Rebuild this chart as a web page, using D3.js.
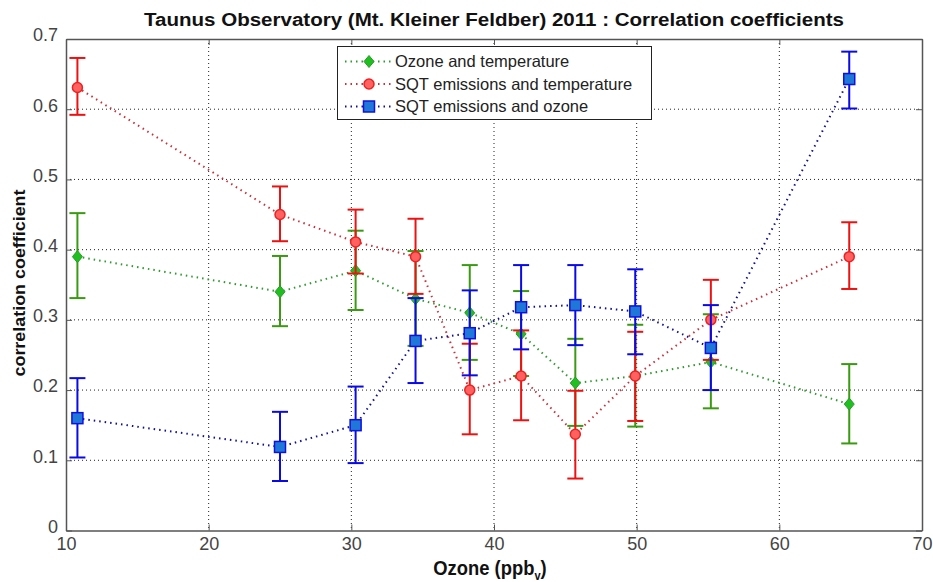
<!DOCTYPE html>
<html>
<head>
<meta charset="utf-8">
<style>
body { margin: 0; background: #fff; }
svg { display: block; font-family: "Liberation Sans", Arial, sans-serif; }
</style>
</head>
<body>
<svg id="chart" width="933" height="582"></svg>
<script src="https://d3js.org/d3.v7.min.js"></script>
<script>
// ozone bins (ppbv)
var ozone = [10.8, 25.0, 30.3, 34.5, 38.3, 41.9, 45.7, 49.9, 55.2, 64.9];

var o3Temp    = [0.39, 0.34, 0.37, 0.33, 0.31, 0.28, 0.21, 0.22, 0.24, 0.18];
var o3TempLo  = [0.331, 0.291, 0.314, 0.263, 0.243, 0.22, 0.149, 0.148, 0.174, 0.124];
var o3TempHi  = [0.452, 0.391, 0.427, 0.398, 0.378, 0.341, 0.273, 0.293, 0.308, 0.237];

var sqtTemp   = [0.631, 0.45, 0.411, 0.39, 0.20, 0.22, 0.137, 0.22, 0.30, 0.39];
var sqtTempLo = [0.592, 0.412, 0.366, 0.337, 0.137, 0.157, 0.074, 0.156, 0.243, 0.344];
var sqtTempHi = [0.673, 0.49, 0.457, 0.444, 0.266, 0.285, 0.199, 0.283, 0.357, 0.439];

var sqtO3     = [0.16, 0.119, 0.15, 0.27, 0.281, 0.318, 0.321, 0.312, 0.26, 0.643];
var sqtO3Lo   = [0.104, 0.0705, 0.096, 0.21, 0.221, 0.258, 0.264, 0.251, 0.20, 0.601];
var sqtO3Hi   = [0.217, 0.169, 0.205, 0.331, 0.342, 0.378, 0.378, 0.372, 0.321, 0.682];

var xTicks = [10, 20, 30, 40, 50, 60, 70];
var yTicks = [0, 0.1, 0.2, 0.3, 0.4, 0.5, 0.6, 0.7];
var seriesNames = ["Ozone and temperature", "SQT emissions and temperature", "SQT emissions and ozone"];

var svg = d3.select("#chart");
var L = 66, R = 922, T = 39, B = 530.5;
var x = d3.scaleLinear().domain([10, 70]).range([L, R]);
var y = d3.scaleLinear().domain([0, 0.7]).range([B, T]);

// grid
svg.append("g").selectAll("line").data(xTicks.slice(1, -1)).join("line")
  .attr("x1", d => x(d)).attr("x2", d => x(d)).attr("y1", T).attr("y2", B)
  .attr("stroke", "#222").attr("stroke-width", 1).attr("stroke-dasharray", "1,3");
svg.append("g").selectAll("line").data(yTicks.slice(1, -1)).join("line")
  .attr("y1", d => y(d)).attr("y2", d => y(d)).attr("x1", L).attr("x2", R)
  .attr("stroke", "#222").attr("stroke-width", 1).attr("stroke-dasharray", "1,3");

// axes
var xAx = svg.append("g").attr("transform", "translate(0," + B + ")")
  .call(d3.axisBottom(x).tickValues(xTicks).tickSizeInner(-6).tickSizeOuter(0).tickPadding(7));
var yAx = svg.append("g").attr("transform", "translate(" + L + ",0)")
  .call(d3.axisLeft(y).tickValues(yTicks).tickFormat(d3.format("")).tickSizeInner(-6).tickSizeOuter(0).tickPadding(8));
var xTop = svg.append("g").attr("transform", "translate(0," + T + ")")
  .call(d3.axisTop(x).tickValues(xTicks).tickSizeInner(-6).tickSizeOuter(0).tickFormat(""));
var yRight = svg.append("g").attr("transform", "translate(" + R + ",0)")
  .call(d3.axisRight(y).tickValues(yTicks).tickSizeInner(-6).tickSizeOuter(0).tickFormat(""));
[xAx, yAx, xTop, yRight].forEach(function (g) {
  g.attr("font-size", 18).attr("font-family", "'Liberation Sans', Arial, sans-serif");
  g.selectAll("path").attr("stroke", "#555").attr("stroke-width", 1.5);
  g.selectAll("line").attr("stroke", "#555");
  g.selectAll("text").attr("fill", "#444");
});
yAx.selectAll("text").attr("dy", "0.1em");

var series = [
  { v: o3Temp, lo: o3TempLo, hi: o3TempHi, line: "#2f9a2f", bar: "#3a9a12", fill: "#1fbf1f", edge: "#2a9a2a", shape: "diamond" },
  { v: sqtTemp, lo: sqtTempLo, hi: sqtTempHi, line: "#c8303a", bar: "#ee1111", fill: "#ff6060", edge: "#ee2020", shape: "circle" },
  { v: sqtO3, lo: sqtO3Lo, hi: sqtO3Hi, line: "#101090", bar: "#0a0ae8", fill: "#1f78d8", edge: "#1010e0", shape: "square" }
];

function drawMarker(g, shape, fill, edge) {
  if (shape === "circle") {
    g.append("circle").attr("r", 5).attr("fill", fill).attr("stroke", edge).attr("stroke-width", 1.5);
  } else if (shape === "square") {
    g.append("rect").attr("x", -5.5).attr("y", -5.5).attr("width", 11).attr("height", 11)
      .attr("fill", fill).attr("stroke", edge).attr("stroke-width", 1.5);
  } else {
    g.append("path").attr("d", "M0,-6L5,0L0,6L-5,0Z").attr("fill", fill).attr("stroke", edge).attr("stroke-width", 1);
  }
}

var line = d3.line().x((d, i) => x(ozone[i])).y(d => y(d));

series.forEach(function (s) {
  var g = svg.append("g");
  g.append("path").datum(s.v).attr("d", line).attr("fill", "none")
    .attr("stroke", s.line).attr("stroke-width", 2).attr("stroke-dasharray", "1.5,4");
  var eb = g.selectAll("g.eb").data(ozone).join("g").attr("class", "eb");
  eb.append("line").attr("x1", d => x(d)).attr("x2", d => x(d))
    .attr("y1", (d, i) => y(s.lo[i])).attr("y2", (d, i) => y(s.hi[i]))
    .attr("stroke", s.bar).attr("stroke-width", 2);
  eb.append("line").attr("x1", d => x(d) - 8).attr("x2", d => x(d) + 8)
    .attr("y1", (d, i) => y(s.lo[i])).attr("y2", (d, i) => y(s.lo[i]))
    .attr("stroke", s.bar).attr("stroke-width", 2);
  eb.append("line").attr("x1", d => x(d) - 8).attr("x2", d => x(d) + 8)
    .attr("y1", (d, i) => y(s.hi[i])).attr("y2", (d, i) => y(s.hi[i]))
    .attr("stroke", s.bar).attr("stroke-width", 2);
  g.selectAll("g.mk").data(ozone).join("g").attr("class", "mk")
    .attr("transform", (d, i) => "translate(" + x(d) + "," + y(s.v[i]) + ")")
    .each(function () { drawMarker(d3.select(this), s.shape, s.fill, s.edge); });
});

// legend
var lg = svg.append("g");
lg.append("rect").attr("x", 337.5).attr("y", 46.5).attr("width", 314).attr("height", 73)
  .attr("fill", "#fff").attr("stroke", "#222").attr("stroke-width", 1);
var rows = [61.5, 84, 106.5];
series.forEach(function (s, i) {
  lg.append("line").attr("x1", 345).attr("x2", 392).attr("y1", rows[i]).attr("y2", rows[i])
    .attr("stroke", s.line).attr("stroke-width", 2).attr("stroke-dasharray", "1.5,4");
  var m = lg.append("g").attr("transform", "translate(369," + rows[i] + ")");
  drawMarker(m, s.shape, s.fill, s.edge);
  lg.append("text").attr("x", 395).attr("y", rows[i]).attr("dy", "0.35em")
    .attr("font-size", 16.5).attr("fill", "#222").text(seriesNames[i]);
});

// titles
svg.append("text").attr("x", 494).attr("y", 26).attr("text-anchor", "middle")
  .attr("font-size", 18).attr("font-weight", "bold").attr("fill", "#111")
  .attr("textLength", 700).attr("lengthAdjust", "spacingAndGlyphs")
  .text("Taunus Observatory (Mt. Kleiner Feldber) 2011 : Correlation coefficients");
var xl = svg.append("g").attr("transform", "translate(490,575) scale(0.92,1)")
  .append("text").attr("text-anchor", "middle")
  .attr("font-size", 20).attr("font-weight", "bold").attr("fill", "#111");
xl.append("tspan").text("Ozone (ppb");
xl.append("tspan").attr("font-size", 12).attr("dy", 5).text("v");
xl.append("tspan").attr("dy", -5).text(")");
svg.append("text").attr("transform", "translate(25,283) rotate(-90)").attr("text-anchor", "middle")
  .attr("font-size", 17).attr("font-weight", "bold").attr("fill", "#111")
  .attr("textLength", 187).attr("lengthAdjust", "spacingAndGlyphs")
  .text("correlation coefficient");
</script>
</body>
</html>
